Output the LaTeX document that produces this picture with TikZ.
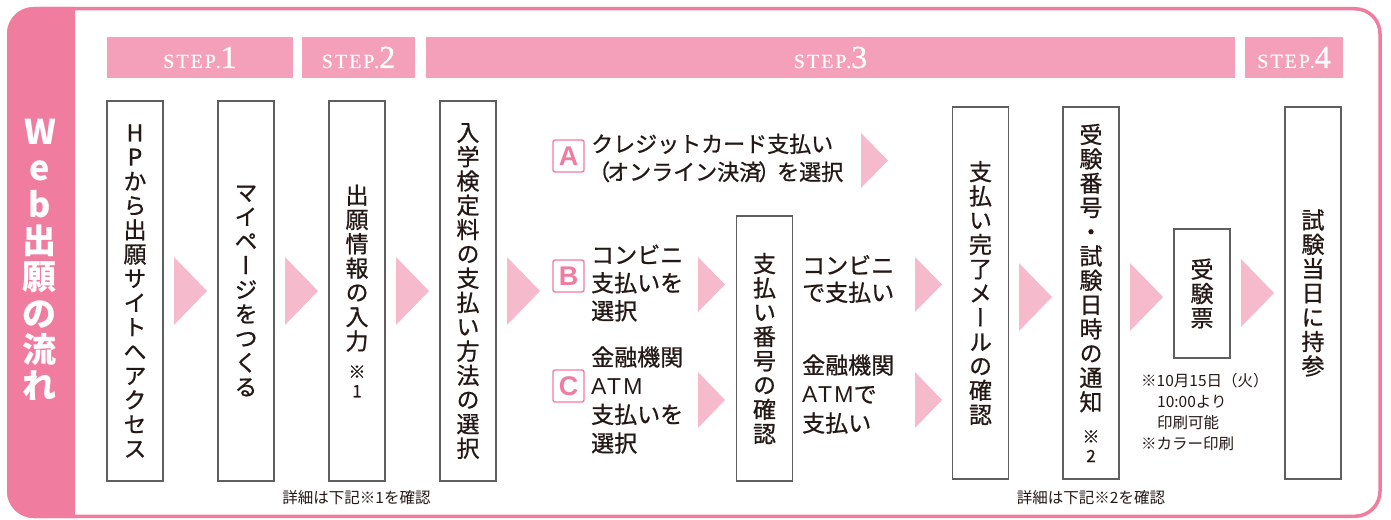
\documentclass[tikz,border=0pt]{standalone}
\usepackage{fontspec}
\setmainfont{Noto Sans CJK JP}
\newfontfamily\tatefont{Noto Sans CJK JP}[RawFeature=+vert, FakeBold=0.8]
\newfontfamily\yokofont{Noto Sans CJK JP}[FakeBold=0.8]
\newfontfamily\stepfont{Liberation Serif}
\newfontfamily\abcfont{Liberation Sans}

\definecolor{bandpink}{RGB}{240,125,160}
\definecolor{steppink}{RGB}{244,160,186}
\definecolor{tripink}{RGB}{246,186,205}
\definecolor{boxline}{RGB}{95,95,95}
\definecolor{ink}{RGB}{35,24,21}

\tikzset{
  tatebox/.style={draw=boxline, line width=1.2, fill=white, minimum width=56, inner sep=0,
    align=center, text=ink, font={\tatefont\fontsize{23}{24.3}\selectfont}},
  steptab/.style={fill=steppink, minimum height=41, inner sep=0, text=white},
  abcbox/.style={draw=bandpink, line width=1.4, fill=white, rounded corners=2,
    minimum width=31, minimum height=32, inner sep=0, text=bandpink,
    font={\abcfont\bfseries\fontsize{27}{27}\selectfont}},
  yoko/.style={anchor=west, inner sep=0, align=left, text=ink},
  tri/.style={fill=tripink},
  note/.style={inner sep=0, text=ink, font={\fontsize{15.5}{21}\selectfont}}
}
\newcommand{\steplabel}[1]{{\fontsize{20}{20}\selectfont\addfontfeatures{LetterSpace=10,FakeBold=0.6}STEP.}{\fontsize{32}{32}\selectfont\addfontfeatures{FakeBold=0.8}#1}}
\newcommand{\chuu}{\fontsize{17}{18}\selectfont}
\newcommand{\atm}{{\abcfont\addfontfeatures{LetterSpace=10}ATM}}

\begin{document}
\begin{tikzpicture}[x=1pt,y=-1pt]
\useasboundingbox (0,0) rectangle (1391,519);

% frame and side band
\begin{scope}
\clip (0,0) rectangle (75,519);
\fill[bandpink, rounded corners=27] (7,7) rectangle (140,518);
\end{scope}
\draw[bandpink, line width=3.5, rounded corners=25] (8.75,8.75) rectangle (1380,516.25);
\node[inner sep=0, align=center, text=white, font={\bfseries\fontsize{34}{36.3}\selectfont}] (title) at (40,260)
  {W\\e\\b\\出\\願\\の\\流\\れ};

% step bars
\node[steptab, minimum width=186] (s1) at (200,57.5) {\stepfont\steplabel{1}};
\node[steptab, minimum width=113] (s2) at (358.5,57.5) {\stepfont\steplabel{2}};
\node[steptab, minimum width=809] (s3) at (830.5,57.5) {\stepfont\steplabel{3}};
\node[steptab, minimum width=98] (s4) at (1294,57.5) {\stepfont\steplabel{4}};

% vertical boxes
\node[tatebox, minimum height=380] (b1) at (135,291)
  {H\\P\\か\\ら\\出\\願\\サ\\イ\\ト\\へ\\ア\\ク\\セ\\ス};
\node[tatebox, minimum height=380] (b2) at (246,291)
  {マ\\イ\\ペ\\ー\\ジ\\を\\つ\\く\\る};
\node[tatebox, minimum height=380] (b3) at (357,291)
  {出\\願\\情\\報\\の\\入\\力\\[4pt]{\chuu ※}\\[-5pt]{\chuu 1}};
\node[tatebox, minimum height=380] (b4) at (468,291)
  {入\\学\\検\\定\\料\\の\\支\\払\\い\\方\\法\\の\\選\\択};
\node[tatebox, minimum height=265] (b5) at (764.5,348.5)
  {支\\払\\い\\番\\号\\の\\確\\認};
\node[tatebox, minimum height=372] (b6) at (980.5,293)
  {支\\払\\い\\完\\了\\メ\\ー\\ル\\の\\確\\認};
\node[tatebox, minimum height=372] (b7) at (1091,293)
  {受\\験\\番\\号\\・\\試\\験\\日\\時\\の\\通\\知\\[8pt]{\chuu ※}\\[-5pt]{\chuu 2}};
\node[tatebox, minimum height=129] (b8) at (1202,293.5)
  {受\\験\\票};
\node[tatebox, minimum height=372] (b9) at (1313,293)
  {試\\験\\当\\日\\に\\持\\参};

% payment choices
\node[abcbox] (la) at (568.5,156) {A};
\node[abcbox] (lb) at (568.5,276) {B};
\node[abcbox] (lc) at (568.5,386) {C};
\node[yoko, font={\yokofont\fontsize{22}{28}\selectfont}] (ta) at (591,158)
  {クレジットカード支払い\\\kern-3pt（\kern-3ptオンライン決済\kern-3pt）\kern-3ptを選択};
\node[yoko, font={\yokofont\fontsize{23}{28}\selectfont}] (tb) at (591,283)
  {コンビニ\\支払いを\\選択};
\node[yoko, font={\yokofont\fontsize{23}{28.7}\selectfont}] (tc) at (591,400)
  {金融機関\\\atm\\支払いを\\選択};
\node[yoko, font={\yokofont\fontsize{23}{27}\selectfont}] (tb2) at (802,279)
  {コンビニ\\で支払い};
\node[yoko, font={\yokofont\fontsize{23}{29}\selectfont}] (tc2) at (802,394)
  {金融機関\\\atm で\\支払い};

% arrows
\fill[tri] (174,257) -- (174,325) -- (207,291) -- cycle;
\fill[tri] (285,257) -- (285,325) -- (318,291) -- cycle;
\fill[tri] (396,257) -- (396,325) -- (429,291) -- cycle;
\fill[tri] (507,257) -- (507,325) -- (540,291) -- cycle;
\fill[tri] (861,133) -- (861,188) -- (888,160.5) -- cycle;
\fill[tri] (698,257) -- (698,312) -- (725,284.5) -- cycle;
\fill[tri] (698,372) -- (698,428) -- (725,400) -- cycle;
\fill[tri] (915,257) -- (915,312) -- (942,284.5) -- cycle;
\fill[tri] (915,372) -- (915,428) -- (942,400) -- cycle;
\fill[tri] (1019,263) -- (1019,331) -- (1052,297) -- cycle;
\fill[tri] (1130,263) -- (1130,331) -- (1163,297) -- cycle;
\fill[tri] (1241,259) -- (1241,327) -- (1274,293) -- cycle;

% notes
\node[note, anchor=west, align=left] (nt) at (1141,412)
  {※10月15日（火）\\\hspace*{16pt}10:00より\\\hspace*{16pt}印刷可能\\※カラー印刷};
\node[note] (n1) at (356.5,498) {詳細は下記※1を確認};
\node[note] (n2) at (1091,498) {詳細は下記※2を確認};
\end{tikzpicture}
\end{document}
